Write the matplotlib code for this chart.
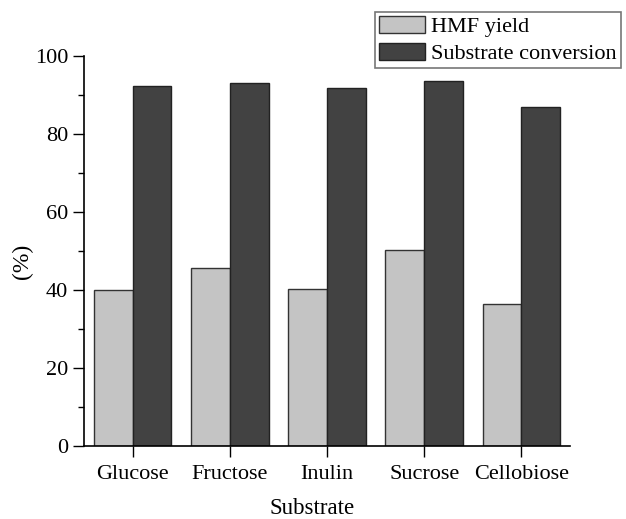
import numpy as np
import matplotlib
matplotlib.use('Agg')
import matplotlib.pyplot as plt
from matplotlib.ticker import MultipleLocator

plt.rcParams['font.family'] = ['Liberation Serif', 'DejaVu Serif']
plt.rcParams['font.size'] = 16

# 各底物的HMF产率与转化率
substrates = ['Glucose', 'Fructose', 'Inulin', 'Sucrose', 'Cellobiose']
hmf_yield = [39.9, 45.6, 40.3, 50.2, 36.4]
conversion = [92.2, 93.1, 91.6, 93.6, 86.8]

x = np.arange(1, len(substrates) + 1)
w = 0.4

fig = plt.figure(figsize=(6.26, 5.19), dpi=100)
ax = fig.add_axes([0.1342, 0.1412, 0.7764, 0.7515])

b1 = ax.bar(x - w / 2, hmf_yield, w, color='#c4c4c4', edgecolor='#333333', linewidth=1, label='HMF yield')
b2 = ax.bar(x + w / 2, conversion, w, color='#424242', edgecolor='#222222', linewidth=1, label='Substrate conversion')

ax.set_xlim(0.5, 5.5)
ax.set_ylim(0, 100)
ax.set_xticks(x)
ax.set_xticklabels(substrates)
ax.yaxis.set_major_locator(MultipleLocator(20))
ax.yaxis.set_minor_locator(MultipleLocator(10))
ax.tick_params(axis='both', which='major', direction='out', length=8, width=1, labelsize=16)
ax.tick_params(axis='y', which='minor', direction='out', length=4, width=1)
ax.tick_params(axis='x', pad=6)

for s in ['top', 'right']:
    ax.spines[s].set_visible(False)
for s in ['left', 'bottom']:
    ax.spines[s].set_linewidth(1.2)

ax.set_xlabel('Substrate', fontsize=16.5)
ax.xaxis.set_label_coords(0.469, -0.135)
ax.set_ylabel('(%)', fontsize=17)
ax.yaxis.set_label_coords(-0.105, 0.472)

leg = fig.legend(handles=[b1, b2], loc='upper left', bbox_to_anchor=(375 / 626, 1 - 12 / 519),
                 fontsize=16, frameon=True, fancybox=False, edgecolor='#555555',
                 handlelength=2.05, handleheight=0.82, handletextpad=0.3,
                 labelspacing=0.25, borderpad=0.18, borderaxespad=0)
leg.get_frame().set_linewidth(1.2)

fig.savefig('out.png', dpi=100)
